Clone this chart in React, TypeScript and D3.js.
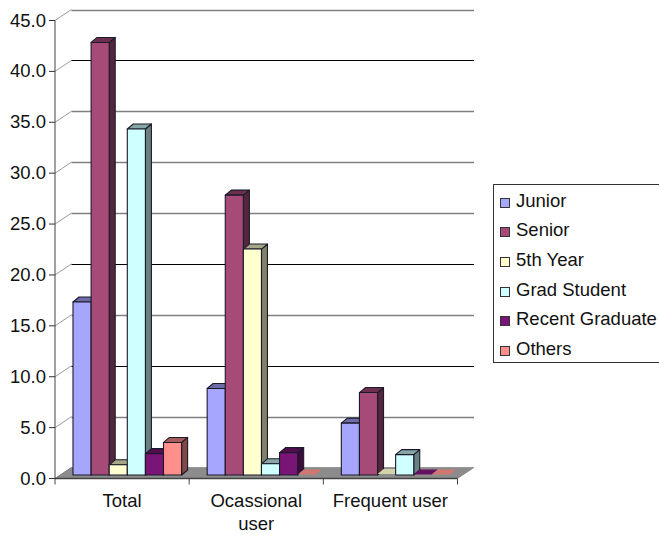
import React from "react";
import * as d3 from "d3";

const categories = ["Total", "Ocassional", "Frequent user"];
const categorySecondLines = ["", "user", ""];
const seriesNames = ["Junior", "Senior", "5th Year", "Grad Student", "Recent Graduate", "Others"];
const junior = [17.0, 8.5, 5.1];
const senior = [42.5, 27.5, 8.1];
const fifthYear = [1.0, 22.2, 0.1];
const gradStudent = [34.0, 1.1, 2.0];
const recentGraduate = [2.1, 2.2, 0.05];
const others = [3.2, 0.05, 0.05];
const seriesColors = ["#A6A6FF", "#A64A78", "#FFFFD0", "#CFFFFF", "#7A1578", "#FF8F8A"];
const tickValues = [0, 5, 10, 15, 20, 25, 30, 35, 40, 45];
const darkGridTicks = [10, 20, 40];

const seriesValues = [junior, senior, fifthYear, gradStudent, recentGraduate, others];

const FONT = "Liberation Sans, Arial, sans-serif";
const FONT_SIZE = 18.5;
const width = 659;
const height = 535;

// Plot frame: the front plane, plus the offset to the back wall.
const left = 55;
const right = 457.5;
const wallDx = 16.5;
const wallDy = 11;
const barDx = 6;
const barDy = 5;

export default function App() {
  const y = d3.scaleLinear().domain([0, 45]).range([478.5, 20.5]);
  const x0 = d3.scaleBand<number>().domain([0, 1, 2]).range([left, right]);
  const barY = (v: number) => y(v) - 3.5;
  const barW = 18.1;
  const groupStart = (i: number) => (x0(i) as number) + 18;

  const bars = categories.flatMap((_, c) =>
    seriesNames.map((_, s) => ({ c, s, v: seriesValues[s][c] }))
  );

  const poly = (pts: [number, number][]) => pts.map((p) => p.join(",")).join(" ");

  return (
    <svg
      width={width}
      height={height}
      style={{ position: "absolute", left: 0, top: 0, background: "#fff" }}
      fontFamily={FONT}
    >
      {/* back wall gridlines and their diagonal connectors */}
      {tickValues.map((t) => {
        const dark = darkGridTicks.includes(t);
        return (
          <g key={t}>
            <line
              x1={left}
              y1={y(t)}
              x2={left + wallDx}
              y2={y(t) - wallDy}
              stroke="#808080"
              strokeWidth={0.8}
            />
            {t > 0 && (
              <line
                x1={left + wallDx}
                y1={Math.round(y(t) - wallDy) + 0.5}
                x2={right + wallDx}
                y2={Math.round(y(t) - wallDy) + 0.5}
                stroke={dark ? "#000" : "#808080"}
                strokeWidth={dark ? 1 : 1.5}
              />
            )}
          </g>
        );
      })}

      {/* floor */}
      <polygon
        points={poly([
          [left, y(0)],
          [left + wallDx, y(0) - wallDy],
          [right + wallDx, y(0) - wallDy],
          [right, y(0)],
        ])}
        fill="#8C8C8C"
        stroke="#777"
        strokeWidth={0.6}
      />

      {/* value axis */}
      <line x1={left} y1={y(45)} x2={left} y2={y(0)} stroke="#444" strokeWidth={1} />
      <line x1={left} y1={y(0)} x2={right} y2={y(0)} stroke="#444" strokeWidth={1.4} />
      {tickValues.map((t) => (
        <g key={t}>
          <line x1={left - 6} x2={left} y1={y(t)} y2={y(t)} stroke="#333" strokeWidth={1} />
          <text x={left - 9} y={y(t) + 6} textAnchor="end" fontSize={FONT_SIZE} fill="#111">
            {t.toFixed(1)}
          </text>
        </g>
      ))}
      {[0, 1, 2, 3].map((i) => {
        const tx = left + (i * (right - left)) / 3;
        return <line key={i} x1={tx} x2={tx} y1={y(0)} y2={y(0) + 6} stroke="#444" strokeWidth={1} />;
      })}

      {/* 3D bars; near-zero values collapse to a flat, unoutlined top face */}
      {bars.map(({ c, s, v }) => {
        const xa = groupStart(c) + s * barW;
        const xb = xa + barW;
        const top = barY(v);
        const base = barY(0);
        const color = d3.color(seriesColors[s]) as d3.RGBColor;
        const flat = v < 0.2;
        return (
          <g
            key={`${c}-${s}`}
            stroke={flat ? "none" : "#1a1a2a"}
            strokeWidth={1.1}
            strokeLinejoin="round"
          >
            {!flat && (
              <polygon
                points={poly([
                  [xb, top],
                  [xb + barDx, top - barDy],
                  [xb + barDx, base - barDy],
                  [xb, base],
                ])}
                fill={color.darker(1.9).formatHex()}
              />
            )}
            <polygon
              points={poly([
                [xa, top],
                [xa + barDx, top - barDy],
                [xb + barDx, top - barDy],
                [xb, top],
              ])}
              fill={color.darker(flat ? 0.55 : 1.2).formatHex()}
            />
            {!flat && (
              <rect x={xa} y={top} width={barW} height={base - top} fill={seriesColors[s]} />
            )}
          </g>
        );
      })}

      {/* category labels */}
      {categories.map((name, i) => {
        const cx = (x0(i) as number) + x0.bandwidth() / 2;
        return (
          <text key={name} textAnchor="middle" fontSize={FONT_SIZE} fill="#111">
            <tspan x={cx} y={507}>{name}</tspan>
            {categorySecondLines[i] && <tspan x={cx} y={530}>{categorySecondLines[i]}</tspan>}
          </text>
        );
      })}

      {/* legend */}
      <rect x={493.5} y={184.5} width={170} height={178} fill="#fff" stroke="#333" strokeWidth={1} />
      {seriesNames.map((name, i) => {
        const baseline = 206.5 + i * 29.7;
        return (
          <g key={name}>
            <rect
              x={500.5}
              y={Math.round(baseline - 9) + 0.5}
              width={9}
              height={9}
              fill={seriesColors[i]}
              stroke="#333"
              strokeWidth={1}
            />
            <text x={516} y={baseline} fontSize={FONT_SIZE} fill="#111">
              {name}
            </text>
          </g>
        );
      })}
    </svg>
  );
}
